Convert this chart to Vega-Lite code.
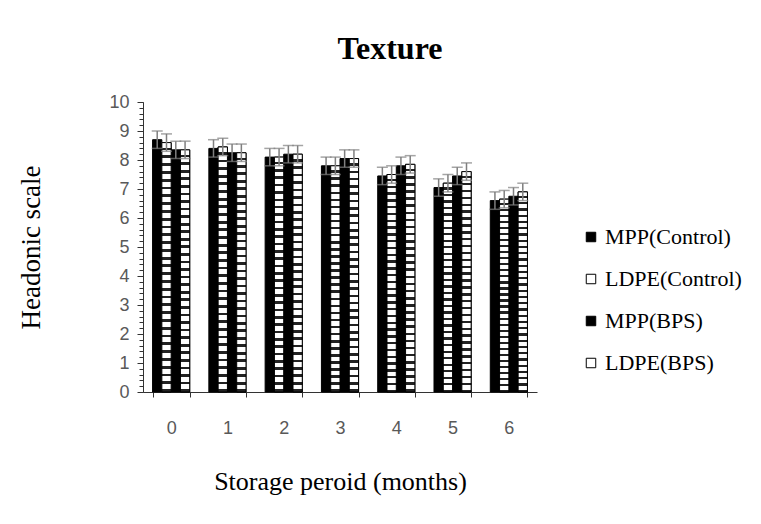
{
  "$schema": "https://vega.github.io/schema/vega-lite/v6.json",
  "width": 394,
  "height": 290,
  "autosize": "none",
  "padding": {"left": 143, "top": 102, "right": 224, "bottom": 132},
  "background": "white",
  "config": {"view": {"stroke": null}, "font": "Liberation Serif", "legend": {"labelFont": "Liberation Serif", "labelFontSize": 22, "labelColor": "#000"}},
  "title": {"text": "Texture", "font": "Liberation Serif", "fontSize": 32, "fontWeight": "bold", "color": "#000", "anchor": "middle", "dx": 50, "offset": 27},
  "data": {"values": [
    {"m": 0, "s": "MPP(Control)", "v": 8.7, "lo": 8.4, "hi": 9.0},
    {"m": 0, "s": "LDPE(Control)", "v": 8.6, "lo": 8.3, "hi": 8.9},
    {"m": 0, "s": "MPP(BPS)", "v": 8.35, "lo": 8.05, "hi": 8.65},
    {"m": 0, "s": "LDPE(BPS)", "v": 8.35, "lo": 8.05, "hi": 8.65},
    {"m": 1, "s": "MPP(Control)", "v": 8.4, "lo": 8.1, "hi": 8.7},
    {"m": 1, "s": "LDPE(Control)", "v": 8.45, "lo": 8.15, "hi": 8.75},
    {"m": 1, "s": "MPP(BPS)", "v": 8.25, "lo": 7.95, "hi": 8.55},
    {"m": 1, "s": "LDPE(BPS)", "v": 8.25, "lo": 7.95, "hi": 8.55},
    {"m": 2, "s": "MPP(Control)", "v": 8.1, "lo": 7.8, "hi": 8.4},
    {"m": 2, "s": "LDPE(Control)", "v": 8.1, "lo": 7.8, "hi": 8.4},
    {"m": 2, "s": "MPP(BPS)", "v": 8.2, "lo": 7.9, "hi": 8.5},
    {"m": 2, "s": "LDPE(BPS)", "v": 8.2, "lo": 7.9, "hi": 8.5},
    {"m": 3, "s": "MPP(Control)", "v": 7.8, "lo": 7.5, "hi": 8.1},
    {"m": 3, "s": "LDPE(Control)", "v": 7.8, "lo": 7.5, "hi": 8.1},
    {"m": 3, "s": "MPP(BPS)", "v": 8.05, "lo": 7.75, "hi": 8.35},
    {"m": 3, "s": "LDPE(BPS)", "v": 8.05, "lo": 7.75, "hi": 8.35},
    {"m": 4, "s": "MPP(Control)", "v": 7.45, "lo": 7.15, "hi": 7.75},
    {"m": 4, "s": "LDPE(Control)", "v": 7.5, "lo": 7.2, "hi": 7.8},
    {"m": 4, "s": "MPP(BPS)", "v": 7.8, "lo": 7.5, "hi": 8.1},
    {"m": 4, "s": "LDPE(BPS)", "v": 7.85, "lo": 7.55, "hi": 8.15},
    {"m": 5, "s": "MPP(Control)", "v": 7.05, "lo": 6.75, "hi": 7.35},
    {"m": 5, "s": "LDPE(Control)", "v": 7.2, "lo": 6.9, "hi": 7.5},
    {"m": 5, "s": "MPP(BPS)", "v": 7.45, "lo": 7.15, "hi": 7.75},
    {"m": 5, "s": "LDPE(BPS)", "v": 7.6, "lo": 7.3, "hi": 7.9},
    {"m": 6, "s": "MPP(Control)", "v": 6.6, "lo": 6.3, "hi": 6.9},
    {"m": 6, "s": "LDPE(Control)", "v": 6.65, "lo": 6.35, "hi": 6.95},
    {"m": 6, "s": "MPP(BPS)", "v": 6.75, "lo": 6.45, "hi": 7.05},
    {"m": 6, "s": "LDPE(BPS)", "v": 6.9, "lo": 6.6, "hi": 7.2}
  ]},
  "layer": [
    {
      "mark": {"type": "bar", "stroke": "#000", "strokeWidth": 1},
      "encoding": {
        "x": {"field": "m", "type": "ordinal", "scale": {"paddingInner": 0.34, "paddingOuter": 0.17},
          "axis": {"title": "Storage peroid (months)", "titleFont": "Liberation Serif", "titleFontSize": 26, "titleFontWeight": "normal", "titleColor": "#000", "titleY": 97, "titleBaseline": "alphabetic",
            "labelAngle": 0, "labelFont": "Liberation Sans", "labelFontSize": 18, "labelColor": "#595959", "labelPadding": 22, "tickBand": "extent", "tickSize": 5, "tickColor": "#333", "domainColor": "#333"}},
        "xOffset": {"field": "s", "type": "nominal", "sort": ["MPP(Control)", "LDPE(Control)", "MPP(BPS)", "LDPE(BPS)"]},
        "y": {"field": "v", "type": "quantitative", "scale": {"domain": [0, 10]},
          "axis": {"orient": "left", "values": [0, 1, 2, 3, 4, 5, 6, 7, 8, 9, 10], "grid": false, "title": "Headonic scale", "titleFont": "Liberation Serif", "titleFontSize": 27, "titleFontWeight": "normal", "titleColor": "#000", "titleX": -98, "titleY": 145, "titleAngle": -90, "titleAlign": "center", "titleBaseline": "bottom",
            "labelFont": "Liberation Sans", "labelFontSize": 18, "labelColor": "#595959", "labelPadding": 8, "tickSize": 6, "tickColor": "#333", "domainColor": "#333"}},
        "fill": {"field": "s", "type": "nominal", "scale": {"domain": ["MPP(Control)", "LDPE(Control)", "MPP(BPS)", "LDPE(BPS)"], "range": ["#000", "#fff", "#000", "#fff"]},
          "legend": {"title": null, "orient": "none", "legendX": 437, "legendY": 124, "labelFont": "Liberation Serif", "labelFontSize": 22, "labelColor": "#000", "symbolType": "square", "symbolSize": 90, "symbolStrokeColor": "#000", "symbolStrokeWidth": 1, "rowPadding": 20, "padding": 0, "labelOffset": 3}}
      }
    },
    {
      "transform": [{"filter": "indexof(datum.s, 'LDPE') == 0"}],
      "mark": {"type": "bar", "stroke": "#000", "strokeWidth": 1,
        "fill": {"gradient": "linear", "x1": 0, "y1": 0, "x2": 0, "y2": 1, "stops": [
          {"offset": 0, "color": "#fff"}, {"offset": 0.02, "color": "#fff"}, {"offset": 0.02, "color": "#222"}, {"offset": 0.03125, "color": "#222"},
          {"offset": 0.03125, "color": "#fff"}, {"offset": 0.05125, "color": "#fff"}, {"offset": 0.05125, "color": "#222"}, {"offset": 0.0625, "color": "#222"},
          {"offset": 0.0625, "color": "#fff"}, {"offset": 0.0825, "color": "#fff"}, {"offset": 0.0825, "color": "#222"}, {"offset": 0.09375, "color": "#222"},
          {"offset": 0.09375, "color": "#fff"}, {"offset": 0.11375, "color": "#fff"}, {"offset": 0.11375, "color": "#222"}, {"offset": 0.125, "color": "#222"},
          {"offset": 0.125, "color": "#fff"}, {"offset": 0.145, "color": "#fff"}, {"offset": 0.145, "color": "#222"}, {"offset": 0.15625, "color": "#222"},
          {"offset": 0.15625, "color": "#fff"}, {"offset": 0.17625, "color": "#fff"}, {"offset": 0.17625, "color": "#222"}, {"offset": 0.1875, "color": "#222"},
          {"offset": 0.1875, "color": "#fff"}, {"offset": 0.2075, "color": "#fff"}, {"offset": 0.2075, "color": "#222"}, {"offset": 0.21875, "color": "#222"},
          {"offset": 0.21875, "color": "#fff"}, {"offset": 0.23875, "color": "#fff"}, {"offset": 0.23875, "color": "#222"}, {"offset": 0.25, "color": "#222"},
          {"offset": 0.25, "color": "#fff"}, {"offset": 0.27, "color": "#fff"}, {"offset": 0.27, "color": "#222"}, {"offset": 0.28125, "color": "#222"},
          {"offset": 0.28125, "color": "#fff"}, {"offset": 0.30125, "color": "#fff"}, {"offset": 0.30125, "color": "#222"}, {"offset": 0.3125, "color": "#222"},
          {"offset": 0.3125, "color": "#fff"}, {"offset": 0.3325, "color": "#fff"}, {"offset": 0.3325, "color": "#222"}, {"offset": 0.34375, "color": "#222"},
          {"offset": 0.34375, "color": "#fff"}, {"offset": 0.36375, "color": "#fff"}, {"offset": 0.36375, "color": "#222"}, {"offset": 0.375, "color": "#222"},
          {"offset": 0.375, "color": "#fff"}, {"offset": 0.395, "color": "#fff"}, {"offset": 0.395, "color": "#222"}, {"offset": 0.40625, "color": "#222"},
          {"offset": 0.40625, "color": "#fff"}, {"offset": 0.42625, "color": "#fff"}, {"offset": 0.42625, "color": "#222"}, {"offset": 0.4375, "color": "#222"},
          {"offset": 0.4375, "color": "#fff"}, {"offset": 0.4575, "color": "#fff"}, {"offset": 0.4575, "color": "#222"}, {"offset": 0.46875, "color": "#222"},
          {"offset": 0.46875, "color": "#fff"}, {"offset": 0.48875, "color": "#fff"}, {"offset": 0.48875, "color": "#222"}, {"offset": 0.5, "color": "#222"},
          {"offset": 0.5, "color": "#fff"}, {"offset": 0.52, "color": "#fff"}, {"offset": 0.52, "color": "#222"}, {"offset": 0.53125, "color": "#222"},
          {"offset": 0.53125, "color": "#fff"}, {"offset": 0.55125, "color": "#fff"}, {"offset": 0.55125, "color": "#222"}, {"offset": 0.5625, "color": "#222"},
          {"offset": 0.5625, "color": "#fff"}, {"offset": 0.5825, "color": "#fff"}, {"offset": 0.5825, "color": "#222"}, {"offset": 0.59375, "color": "#222"},
          {"offset": 0.59375, "color": "#fff"}, {"offset": 0.61375, "color": "#fff"}, {"offset": 0.61375, "color": "#222"}, {"offset": 0.625, "color": "#222"},
          {"offset": 0.625, "color": "#fff"}, {"offset": 0.645, "color": "#fff"}, {"offset": 0.645, "color": "#222"}, {"offset": 0.65625, "color": "#222"},
          {"offset": 0.65625, "color": "#fff"}, {"offset": 0.67625, "color": "#fff"}, {"offset": 0.67625, "color": "#222"}, {"offset": 0.6875, "color": "#222"},
          {"offset": 0.6875, "color": "#fff"}, {"offset": 0.7075, "color": "#fff"}, {"offset": 0.7075, "color": "#222"}, {"offset": 0.71875, "color": "#222"},
          {"offset": 0.71875, "color": "#fff"}, {"offset": 0.73875, "color": "#fff"}, {"offset": 0.73875, "color": "#222"}, {"offset": 0.75, "color": "#222"},
          {"offset": 0.75, "color": "#fff"}, {"offset": 0.77, "color": "#fff"}, {"offset": 0.77, "color": "#222"}, {"offset": 0.78125, "color": "#222"},
          {"offset": 0.78125, "color": "#fff"}, {"offset": 0.80125, "color": "#fff"}, {"offset": 0.80125, "color": "#222"}, {"offset": 0.8125, "color": "#222"},
          {"offset": 0.8125, "color": "#fff"}, {"offset": 0.8325, "color": "#fff"}, {"offset": 0.8325, "color": "#222"}, {"offset": 0.84375, "color": "#222"},
          {"offset": 0.84375, "color": "#fff"}, {"offset": 0.86375, "color": "#fff"}, {"offset": 0.86375, "color": "#222"}, {"offset": 0.875, "color": "#222"},
          {"offset": 0.875, "color": "#fff"}, {"offset": 0.895, "color": "#fff"}, {"offset": 0.895, "color": "#222"}, {"offset": 0.90625, "color": "#222"},
          {"offset": 0.90625, "color": "#fff"}, {"offset": 0.92625, "color": "#fff"}, {"offset": 0.92625, "color": "#222"}, {"offset": 0.9375, "color": "#222"},
          {"offset": 0.9375, "color": "#fff"}, {"offset": 0.9575, "color": "#fff"}, {"offset": 0.9575, "color": "#222"}, {"offset": 0.96875, "color": "#222"},
          {"offset": 0.96875, "color": "#fff"}, {"offset": 0.98875, "color": "#fff"}, {"offset": 0.98875, "color": "#222"}, {"offset": 1, "color": "#222"}
        ]}},
      "encoding": {
        "x": {"field": "m", "type": "ordinal"},
        "xOffset": {"field": "s", "type": "nominal", "sort": ["MPP(Control)", "LDPE(Control)", "MPP(BPS)", "LDPE(BPS)"]},
        "y": {"field": "v", "type": "quantitative", "axis": null}
      }
    },
    {
      "mark": {"type": "rule", "color": "#7f7f7f", "strokeWidth": 1.5},
      "encoding": {
        "x": {"field": "m", "type": "ordinal"},
        "xOffset": {"field": "s", "type": "nominal", "sort": ["MPP(Control)", "LDPE(Control)", "MPP(BPS)", "LDPE(BPS)"]},
        "y": {"field": "lo", "type": "quantitative",
          "axis": {"orient": "left", "values": [0, 0.2, 0.4, 0.6, 0.8, 1, 1.2, 1.4, 1.6, 1.8, 2, 2.2, 2.4, 2.6, 2.8, 3, 3.2, 3.4, 3.6, 3.8, 4, 4.2, 4.4, 4.6, 4.8, 5, 5.2, 5.4, 5.6, 5.8, 6, 6.2, 6.4, 6.6, 6.8, 7, 7.2, 7.4, 7.6, 7.8, 8, 8.2, 8.4, 8.6, 8.8, 9, 9.2, 9.4, 9.6, 9.8, 10], "labels": false, "title": null, "domain": false, "grid": false, "tickSize": 4, "tickColor": "#333"}},
        "y2": {"field": "hi"}
      }
    },
    {
      "mark": {"type": "tick", "color": "#7f7f7f", "thickness": 1.5, "size": 11},
      "encoding": {
        "x": {"field": "m", "type": "ordinal"},
        "xOffset": {"field": "s", "type": "nominal", "sort": ["MPP(Control)", "LDPE(Control)", "MPP(BPS)", "LDPE(BPS)"]},
        "y": {"field": "hi", "type": "quantitative", "axis": null}
      }
    },
    {
      "mark": {"type": "tick", "color": "#7f7f7f", "thickness": 1.5, "size": 11},
      "encoding": {
        "x": {"field": "m", "type": "ordinal"},
        "xOffset": {"field": "s", "type": "nominal", "sort": ["MPP(Control)", "LDPE(Control)", "MPP(BPS)", "LDPE(BPS)"]},
        "y": {"field": "lo", "type": "quantitative", "axis": null}
      }
    }
  ],
  "resolve": {"axis": {"y": "independent"}}
}
